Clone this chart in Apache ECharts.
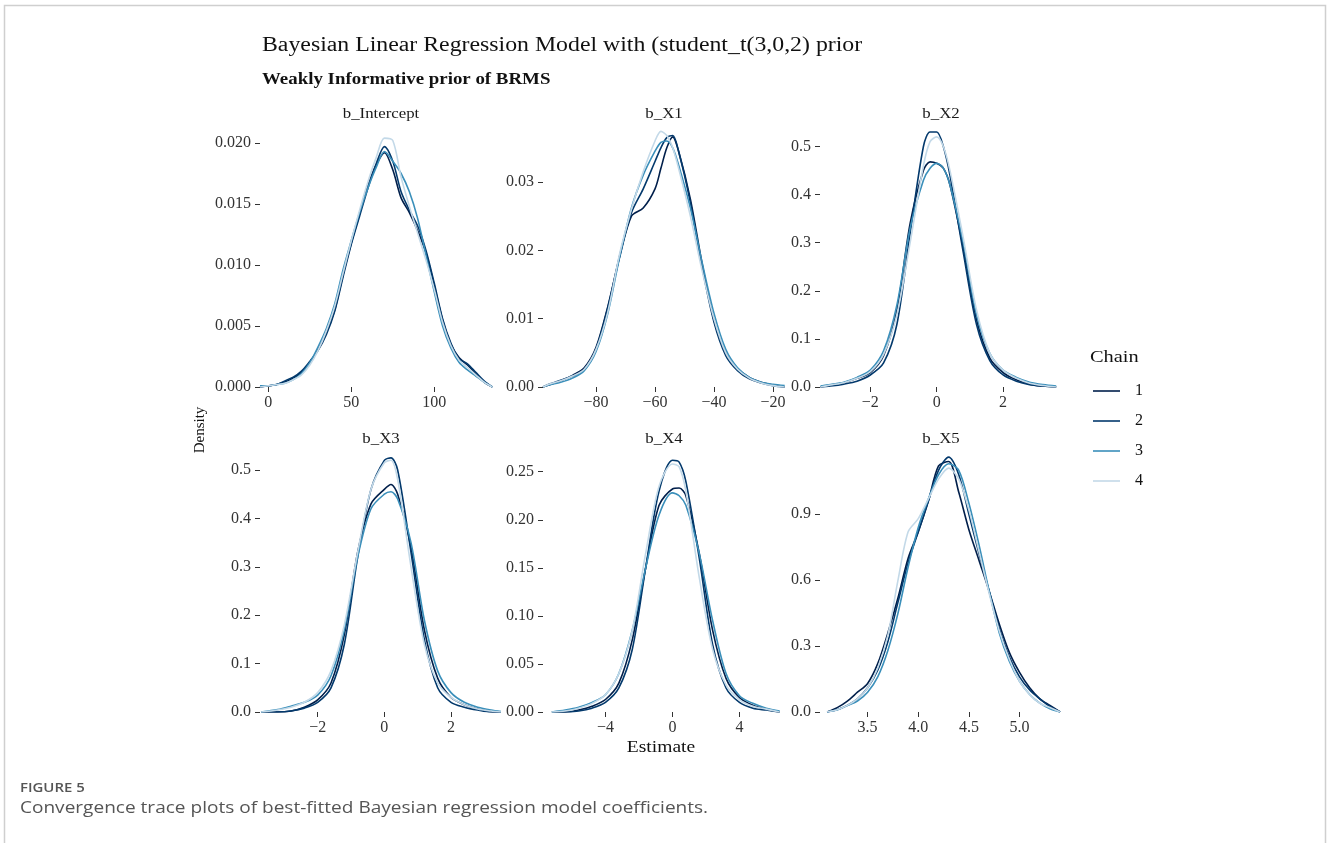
<!DOCTYPE html>
<html>
<head>
<meta charset="utf-8">
<script src="https://cdn.jsdelivr.net/npm/echarts@6/dist/echarts.min.js"></script>
<style>
  html, body { margin: 0; padding: 0; background: #fff; }
  #chart { width: 1328px; height: 843px; }
</style>
</head>
<body>
<div id="chart"></div>
<script>
// Posterior density of each coefficient, one curve per MCMC chain.
const chainNames = ['1', '2', '3', '4'];
const chainColors = ['#011f4b', '#03396c', '#3a8fba', '#c3d9e8'];

const panelTitles = ['b_Intercept', 'b_X1', 'b_X2', 'b_X3', 'b_X4', 'b_X5'];

// b_Intercept
const interceptX = [-5, 0, 5, 10, 15, 20, 25, 30, 35, 40, 45, 50, 55, 60, 65, 70, 75, 80, 85, 90, 95, 100, 105, 110, 115, 120, 125, 130, 135];
const interceptChain1 = [0, 0.0001, 0.0002, 0.0004, 0.0007, 0.0012, 0.0020, 0.0031, 0.0045, 0.0063, 0.0092, 0.0118, 0.0142, 0.0165, 0.0182, 0.0192, 0.0178, 0.0155, 0.0143, 0.0128, 0.0110, 0.0083, 0.0055, 0.0035, 0.0024, 0.0018, 0.0011, 0.0004, 0];
const interceptChain2 = [0, 0.0001, 0.0002, 0.0005, 0.0008, 0.0013, 0.0021, 0.0030, 0.0043, 0.0062, 0.0090, 0.0117, 0.0140, 0.0163, 0.0183, 0.0197, 0.0185, 0.0160, 0.0145, 0.0132, 0.0112, 0.0085, 0.0056, 0.0036, 0.0023, 0.0019, 0.0012, 0.0005, 0];
const interceptChain3 = [0.0001, 0.0001, 0.0002, 0.0003, 0.0006, 0.0011, 0.0020, 0.0033, 0.0048, 0.0068, 0.0096, 0.0120, 0.0143, 0.0163, 0.0180, 0.0193, 0.0185, 0.0175, 0.0160, 0.0138, 0.0108, 0.0078, 0.0050, 0.0032, 0.0020, 0.0014, 0.0009, 0.0004, 0];
const interceptChain4 = [0, 0.0001, 0.0002, 0.0003, 0.0006, 0.0010, 0.0018, 0.0030, 0.0046, 0.0066, 0.0093, 0.0120, 0.0145, 0.0168, 0.0188, 0.0204, 0.0202, 0.0172, 0.0148, 0.0126, 0.0104, 0.0080, 0.0053, 0.0034, 0.0022, 0.0016, 0.0010, 0.0004, 0];

// b_X1
const x1X = [-98, -96, -92, -88, -84, -80, -76, -72, -68, -64, -60, -58, -56, -54, -52, -48, -44, -40, -36, -32, -28, -24, -20, -16];
const x1Chain1 = [0, 0.0003, 0.0009, 0.0017, 0.0028, 0.0058, 0.0118, 0.0190, 0.0250, 0.0262, 0.0290, 0.0320, 0.0350, 0.0366, 0.0345, 0.0275, 0.0180, 0.0098, 0.0050, 0.0027, 0.0014, 0.0007, 0.0003, 0];
const x1Chain2 = [0, 0.0004, 0.0010, 0.0016, 0.0026, 0.0056, 0.0116, 0.0192, 0.0255, 0.0290, 0.0330, 0.0350, 0.0365, 0.0368, 0.0345, 0.0270, 0.0175, 0.0095, 0.0046, 0.0024, 0.0012, 0.0006, 0.0002, 0];
const x1Chain3 = [0, 0.0003, 0.0007, 0.0013, 0.0024, 0.0052, 0.0108, 0.0190, 0.0262, 0.0310, 0.0345, 0.0358, 0.0360, 0.0350, 0.0325, 0.0262, 0.0182, 0.0108, 0.0055, 0.0028, 0.0014, 0.0007, 0.0004, 0.0002];
const x1Chain4 = [0, 0.0004, 0.0009, 0.0016, 0.0026, 0.0055, 0.0110, 0.0195, 0.0260, 0.0315, 0.0360, 0.0374, 0.0368, 0.0350, 0.0320, 0.0250, 0.0170, 0.0100, 0.0050, 0.0026, 0.0013, 0.0006, 0.0002, 0];

// b_X2
const x2X = [-3.5, -3.2, -2.8, -2.4, -2.0, -1.6, -1.2, -0.8, -0.4, -0.2, 0, 0.2, 0.4, 0.8, 1.2, 1.6, 2.0, 2.4, 2.8, 3.2, 3.6];
const x2Chain1 = [0, 0.004, 0.009, 0.018, 0.030, 0.065, 0.160, 0.340, 0.450, 0.468, 0.465, 0.455, 0.420, 0.290, 0.140, 0.060, 0.030, 0.015, 0.006, 0.002, 0];
const x2Chain2 = [0, 0.002, 0.006, 0.012, 0.025, 0.050, 0.130, 0.320, 0.500, 0.530, 0.530, 0.500, 0.440, 0.280, 0.130, 0.055, 0.025, 0.012, 0.005, 0.002, 0];
const x2Chain3 = [0.002, 0.005, 0.010, 0.020, 0.035, 0.075, 0.170, 0.330, 0.430, 0.455, 0.465, 0.455, 0.420, 0.300, 0.150, 0.070, 0.035, 0.020, 0.010, 0.005, 0.002];
const x2Chain4 = [0, 0.004, 0.009, 0.018, 0.032, 0.068, 0.150, 0.300, 0.460, 0.510, 0.520, 0.500, 0.450, 0.310, 0.160, 0.070, 0.035, 0.018, 0.008, 0.003, 0];

// b_X3
const x3X = [-3.7, -3.2, -2.8, -2.4, -2.0, -1.6, -1.2, -0.8, -0.4, 0, 0.2, 0.4, 0.8, 1.2, 1.6, 2.0, 2.4, 2.8, 3.2, 3.5];
const x3Chain1 = [0, 0, 0.002, 0.010, 0.025, 0.060, 0.160, 0.330, 0.430, 0.460, 0.470, 0.450, 0.340, 0.170, 0.070, 0.030, 0.015, 0.006, 0.001, 0];
const x3Chain2 = [0, 0, 0.002, 0.008, 0.020, 0.050, 0.140, 0.320, 0.460, 0.520, 0.525, 0.500, 0.330, 0.150, 0.050, 0.020, 0.010, 0.004, 0, 0];
const x3Chain3 = [0, 0.005, 0.012, 0.020, 0.035, 0.075, 0.170, 0.320, 0.420, 0.450, 0.455, 0.440, 0.350, 0.190, 0.085, 0.040, 0.020, 0.010, 0.004, 0.001];
const x3Chain4 = [0, 0.004, 0.010, 0.020, 0.040, 0.085, 0.180, 0.330, 0.460, 0.515, 0.520, 0.480, 0.300, 0.140, 0.060, 0.030, 0.015, 0.006, 0.002, 0];

// b_X4
const x4X = [-7.2, -6.4, -5.6, -4.8, -4.0, -3.2, -2.4, -1.6, -0.8, 0, 0.4, 0.8, 1.6, 2.4, 3.2, 4.0, 4.8, 5.6, 6.4];
const x4Chain1 = [0, 0, 0.002, 0.006, 0.013, 0.030, 0.075, 0.150, 0.215, 0.232, 0.233, 0.225, 0.165, 0.085, 0.035, 0.015, 0.007, 0.003, 0];
const x4Chain2 = [0, 0, 0.001, 0.004, 0.010, 0.025, 0.065, 0.150, 0.230, 0.262, 0.260, 0.240, 0.160, 0.070, 0.025, 0.010, 0.004, 0.002, 0];
const x4Chain3 = [0, 0.002, 0.005, 0.010, 0.018, 0.040, 0.085, 0.150, 0.205, 0.228, 0.225, 0.215, 0.165, 0.095, 0.040, 0.017, 0.009, 0.004, 0.001];
const x4Chain4 = [0, 0.001, 0.004, 0.009, 0.018, 0.040, 0.085, 0.165, 0.235, 0.258, 0.255, 0.230, 0.140, 0.065, 0.028, 0.013, 0.006, 0.003, 0];

// b_X5
const x5X = [3.1, 3.2, 3.3, 3.4, 3.5, 3.6, 3.7, 3.8, 3.9, 4.0, 4.1, 4.2, 4.3, 4.4, 4.5, 4.6, 4.7, 4.8, 4.9, 5.0, 5.1, 5.2, 5.3, 5.4];
const x5Chain1 = [0, 0.02, 0.05, 0.09, 0.13, 0.22, 0.36, 0.52, 0.70, 0.82, 0.96, 1.12, 1.14, 1.00, 0.83, 0.69, 0.55, 0.40, 0.27, 0.18, 0.11, 0.06, 0.03, 0];
const x5Chain2 = [0, 0.01, 0.03, 0.06, 0.11, 0.19, 0.32, 0.50, 0.68, 0.82, 0.96, 1.10, 1.16, 1.08, 0.90, 0.72, 0.55, 0.38, 0.25, 0.16, 0.10, 0.06, 0.025, 0];
const x5Chain3 = [0, 0.01, 0.03, 0.05, 0.09, 0.16, 0.28, 0.45, 0.66, 0.84, 0.97, 1.08, 1.13, 1.10, 0.95, 0.76, 0.55, 0.36, 0.23, 0.14, 0.08, 0.04, 0.015, 0];
const x5Chain4 = [0, 0.01, 0.03, 0.06, 0.11, 0.20, 0.35, 0.60, 0.82, 0.88, 0.97, 1.06, 1.11, 1.06, 0.92, 0.73, 0.54, 0.37, 0.24, 0.14, 0.08, 0.04, 0.02, 0];

// Tick values for each panel
const xTicks = [
  [0, 50, 100],
  [-80, -60, -40, -20],
  [-2, 0, 2],
  [-2, 0, 2],
  [-4, 0, 4],
  [3.5, 4.0, 4.5, 5.0]
];
const yTicks = [
  [0, 0.005, 0.010, 0.015, 0.020],
  [0, 0.01, 0.02, 0.03],
  [0, 0.1, 0.2, 0.3, 0.4, 0.5],
  [0, 0.1, 0.2, 0.3, 0.4, 0.5],
  [0, 0.05, 0.10, 0.15, 0.20, 0.25],
  [0, 0.3, 0.6, 0.9]
];
const yDecimals = [3, 2, 1, 1, 2, 1];
const xDecimals = [0, 0, 0, 0, 0, 1];

const panelX = [interceptX, x1X, x2X, x3X, x4X, x5X];
const panelChains = [
  [interceptChain1, interceptChain2, interceptChain3, interceptChain4],
  [x1Chain1, x1Chain2, x1Chain3, x1Chain4],
  [x2Chain1, x2Chain2, x2Chain3, x2Chain4],
  [x3Chain1, x3Chain2, x3Chain3, x3Chain4],
  [x4Chain1, x4Chain2, x4Chain3, x4Chain4],
  [x5Chain1, x5Chain2, x5Chain3, x5Chain4]
];

// Layout of the 3 x 2 facet grid
const colLeft = [260, 543, 820];
const panelWidth = 242;
const rowTop = [125, 450];
const panelHeight = 262;
const xRange = [[-5, 140.8], [-98, -15.9], [-3.515, 3.774], [-3.73, 3.53], [-7.73, 6.72], [3.03, 5.419]];
const yMax = [0.021475, 0.03834, 0.5447, 0.5413, 0.2726, 1.1926];

const SERIF = '"Liberation Serif", "DejaVu Serif", serif';
const SANS = '"Open Sans", "Noto Sans", sans-serif';
const WIDE = 1.2; // horizontal stretch of the figure lettering
const fmtNum = (v, d) => v.toFixed(d).replace('-', '\u2212');

const grids = [], xAxes = [], yAxes = [], series = [], graphics = [];
for (let p = 0; p < 6; p++) {
  const col = p % 3, row = Math.floor(p / 3);
  grids.push({ left: colLeft[col], top: rowTop[row], width: panelWidth, height: panelHeight, containLabel: false });
  xAxes.push({
    type: 'value', gridIndex: p, min: xRange[p][0], max: xRange[p][1],
    splitLine: { show: false }, axisLine: { show: false, onZero: false },
    axisTick: { show: true, length: 5, customValues: xTicks[p], lineStyle: { color: '#333', width: 1 } },
    axisLabel: { customValues: xTicks[p], margin: 8, color: '#333', fontFamily: SERIF, fontSize: 16,
      formatter: v => fmtNum(v, xDecimals[p]) }
  });
  yAxes.push({
    type: 'value', gridIndex: p, min: 0, max: yMax[p],
    splitLine: { show: false }, axisLine: { show: false, onZero: false },
    axisTick: { show: true, length: 5, customValues: yTicks[p], lineStyle: { color: '#333', width: 1 } },
    axisLabel: { customValues: yTicks[p], margin: 9, color: '#333', fontFamily: SERIF, fontSize: 16,
      formatter: v => fmtNum(v, yDecimals[p]) }
  });
  for (let c = 0; c < 4; c++) {
    series.push({
      type: 'line', name: chainNames[c], xAxisIndex: p, yAxisIndex: p,
      data: panelX[p].map((x, i) => [x, panelChains[p][c][i]]),
      showSymbol: false, smooth: 0.3, clip: true,
      lineStyle: { color: chainColors[c], width: 1.6 },
      itemStyle: { color: chainColors[c] },
      emphasis: { disabled: true }, animation: false
    });
  }
  graphics.push({
    type: 'text', x: colLeft[col] + panelWidth / 2, y: rowTop[row] - 11, scaleX: WIDE,
    style: { text: panelTitles[p], font: '14px ' + SERIF, fill: '#1a1a1a', textAlign: 'center', textVerticalAlign: 'middle' }
  });
}

// Figure frame, titles, axis names and caption
graphics.push(
  { type: 'rect', shape: { x: 4.5, y: 5.5, width: 1321, height: 860 }, style: { fill: 'none', stroke: '#cfcfcf', lineWidth: 1.5 }, silent: true },
  { type: 'text', x: 262, y: 46, scaleX: 1.19, style: { text: 'Bayesian Linear Regression Model with (student_t(3,0,2) prior', font: '20px ' + SERIF, fill: '#111', textVerticalAlign: 'middle' } },
  { type: 'text', x: 262, y: 80, scaleX: 1.18, style: { text: 'Weakly Informative prior of BRMS', font: 'bold 16px ' + SERIF, fill: '#111', textVerticalAlign: 'middle' } },
  { type: 'text', x: 200, y: 430, rotation: Math.PI / 2, style: { text: 'Density', font: '15px ' + SERIF, fill: '#111', textAlign: 'center', textVerticalAlign: 'middle' } },
  { type: 'text', x: 661, y: 748, scaleX: 1.22, style: { text: 'Estimate', font: '16px ' + SERIF, fill: '#111', textAlign: 'center', textVerticalAlign: 'middle' } },
  { type: 'text', x: 1090, y: 358, scaleX: WIDE, style: { text: 'Chain', font: '17px ' + SERIF, fill: '#111', textVerticalAlign: 'middle' } },
  { type: 'text', x: 20, y: 788, scaleX: 1.15, style: { text: 'FIGURE 5', font: '600 13px ' + SANS, fill: '#555', textVerticalAlign: 'middle' } },
  { type: 'text', x: 20, y: 808, scaleX: 1.12, style: { text: 'Convergence trace plots of best-fitted Bayesian regression model coefficients.', font: '17px ' + SANS, fill: '#555', textVerticalAlign: 'middle' } }
);

const chart = echarts.init(document.getElementById('chart'), null, { renderer: 'canvas' });
chart.setOption({
  backgroundColor: '#fff',
  animation: false,
  grid: grids,
  xAxis: xAxes,
  yAxis: yAxes,
  series: series,
  legend: {
    data: chainNames, orient: 'vertical', left: 1093, top: 383, padding: 0,
    icon: 'rect', itemWidth: 27, itemHeight: 1.6, itemGap: 14,
    selectedMode: false,
    textStyle: { fontFamily: SERIF, fontSize: 16, color: '#111', padding: [0, 0, 0, 10] }
  },
  graphic: graphics
});
</script>
</body>
</html>
